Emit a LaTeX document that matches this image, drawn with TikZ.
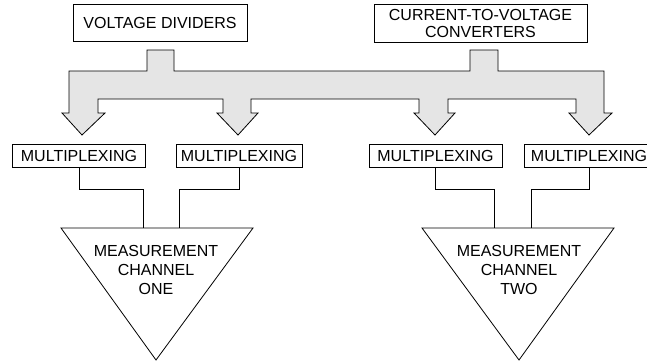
\documentclass[tikz,border=0pt]{standalone}
\usepackage{fontspec}
\setmainfont{Liberation Sans}
\begin{document}
\begin{tikzpicture}[x=1pt,y=-1pt,line width=0.8pt,
    font=\fontsize{16}{17}\selectfont,
    blockbox/.style={draw=black,fill=white,inner sep=0pt,align=center},
    busfill/.style={draw=black,fill=black!10,line join=miter}]
        \path[use as bounding box,clip] (0,0) rectangle (647,362);
        \node[blockbox,minimum width=174,minimum height=37] (vd)  at (160,22.5) {VOLTAGE DIVIDERS};
        \node[blockbox,minimum width=213,minimum height=38] (ctv) at (480.5,23) {CURRENT-TO-VOLTAGE\\CONVERTERS};
        \filldraw[busfill] (147,50) -- (174,50) -- (174,71) -- (470,71) -- (470,50) -- (498,50) -- (498,71)
            -- (604,71) -- (604,113) -- (612,113) -- (589,135) -- (569,113) -- (576,113) -- (576,99)
            -- (448,99) -- (448,113) -- (455,113) -- (435,135) -- (414,113) -- (419,113) -- (419,99)
            -- (251,99) -- (251,113) -- (258,113) -- (238,135) -- (217,113) -- (223,113) -- (223,99)
            -- (98,99) -- (98,113) -- (105,113) -- (82,135) -- (62,113) -- (69,113) -- (69,71)
            -- (147,71) -- cycle;
        \node[blockbox,minimum width=133,minimum height=23] (mux1) at (79,155.5) {MULTIPLEXING};
        \node[blockbox,minimum width=126,minimum height=23] (mux2) at (239,155.5) {MULTIPLEXING};
        \node[blockbox,minimum width=133,minimum height=23] (mux3) at (435.5,155.5) {MULTIPLEXING};
        \node[blockbox,minimum width=130,minimum height=23] (mux4) at (589,155.5) {MULTIPLEXING};
        \draw (61,228) -- (253,228) -- (156,360) -- cycle;
        \draw (422,228) -- (614,228) -- (519,360) -- cycle;
        \coordinate (ch1a) at (143,228);
        \coordinate (ch1b) at (179,228);
        \coordinate (ch2a) at (494,228);
        \coordinate (ch2b) at (531,228);
        \node[align=center,font=\fontsize{16}{19}\selectfont] (ch1) at (156,270) {MEASUREMENT\\CHANNEL\\ONE};
        \node[align=center,font=\fontsize{16}{19}\selectfont] (ch2) at (519,270) {MEASUREMENT\\CHANNEL\\TWO};
        \draw (mux1.south) -- ++(0,22) -| (ch1a);
        \draw (mux2.south) -- ++(0,22) -| (ch1b);
        \draw (mux3.south) -- ++(0,22) -| (ch2a);
        \draw (mux4.south) -- ++(0,22) -| (ch2b);
\end{tikzpicture}
\end{document}
